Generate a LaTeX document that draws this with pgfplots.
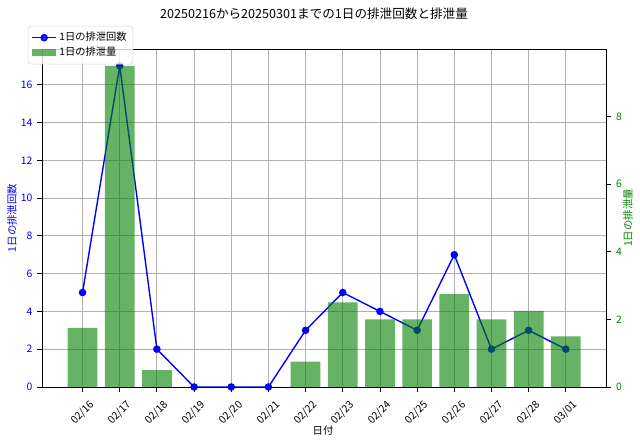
\documentclass[border=0pt]{standalone}
\usepackage{fontspec}
\setmainfont{Noto Sans CJK JP}
\usepackage{pgfplots}
\pgfplotsset{compat=1.18}
\definecolor{mplgreen}{HTML}{008000}
\definecolor{gridgray}{HTML}{B0B0B0}

\begin{document}
\begin{tikzpicture}[x=0.01in,y=0.01in]
\path[use as bounding box] (0,0) rectangle (640,444);

\pgfplotsset{
  common/.style={
    at={(0.42in,0.57in)}, anchor=south west,
    scale only axis, width=5.64in, height=3.37in,
    xmin=-1.09, xmax=14.09,
    tick align=outside, major tick length=3.5pt,
    tick style={black, line width=0.6pt},
    axis line style={line width=0.6pt},
    tick label style={font=\fontsize{7.5}{9}\selectfont},
    /pgf/number format/assume math mode=true,
  }
}

% left axis: counts per day
\begin{axis}[
  common,
  ymin=0, ymax=17.85,
  ytick={0,2,...,16},
  ytick pos=left, xtick pos=bottom,
  xtick={0,...,13},
  xticklabels={02/16,02/17,02/18,02/19,02/20,02/21,02/22,02/23,02/24,02/25,02/26,02/27,02/28,03/01},
  xticklabel style={yshift=-15pt, rotate=45, anchor=center},
  yticklabel style={blue},
  grid=major,
  grid style={gridgray, line width=0.6pt},
]
\addplot[blue, line width=1pt, mark=*, mark size=2.2pt] coordinates {
  (0,5) (1,17) (2,2) (3,0) (4,0) (5,0) (6,3)
  (7,5) (8,4) (9,3) (10,7) (11,2) (12,3) (13,2)
};
\end{axis}

% right axis: amount per day
\begin{axis}[
  common,
  ymin=0, ymax=9.975,
  ytick={0,2,...,8},
  axis y line*=right, axis x line=none,
  yticklabel style={mplgreen},
  legend style={at={(rel axis cs:-0.025,1.071)}, anchor=north west,
    font=\fontsize{7.4}{8.5}\selectfont, draw=black!15, rounded corners=2pt,
    fill=white, fill opacity=0.8, text opacity=1,
    row sep=-1pt, inner sep=2.5pt},
  legend cell align=left,
]
\addlegendimage{blue, line width=1pt, mark=*, mark size=2.2pt, sharp corners}
\addlegendentry{1日の排泄回数}
\addplot[ybar, bar width=0.8, fill=mplgreen, fill opacity=0.6, draw=none,
  legend image code/.code={\fill[mplgreen, fill opacity=0.6, sharp corners]
    (0cm,-0.09cm) rectangle (0.6cm,0.09cm);}] coordinates {
  (0,1.75) (1,9.5) (2,0.5) (3,0) (4,0) (5,0) (6,0.75)
  (7,2.5) (8,2) (9,2) (10,2.75) (11,2) (12,2.25) (13,1.5)
};
\addlegendentry{1日の排泄量}
\end{axis}

\node[font=\fontsize{9.1}{11}\selectfont] at (314,430) {20250216から20250301までの1日の排泄回数と排泄量};
\node[font=\fontsize{7.5}{9}\selectfont] at (323,13) {日付};
\node[font=\fontsize{7.5}{9}\selectfont, blue, rotate=90] at (12,226) {1日の排泄回数};
\node[font=\fontsize{7.5}{9}\selectfont, mplgreen, rotate=90] at (628,226) {1日の排泄量};
\end{tikzpicture}
\end{document}
